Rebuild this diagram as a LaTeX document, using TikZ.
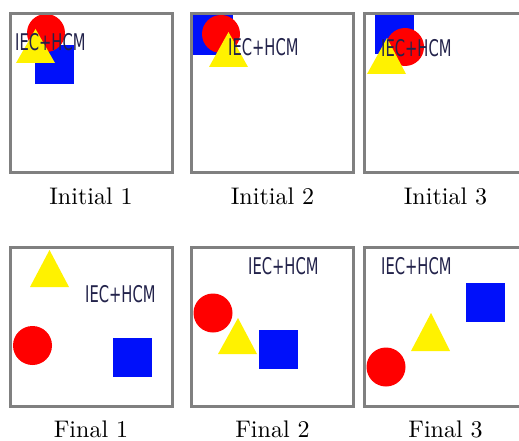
\documentclass[tikz,border=0pt]{standalone}
\usepackage{fontspec}
\usepackage{graphicx}
\newfontfamily\labelfont{DejaVu Sans}
\definecolor{framegray}{RGB}{128,128,128}
\definecolor{txtnavy}{RGB}{35,35,75}
\definecolor{sqblue}{RGB}{0,16,250}
\begin{document}
\begin{tikzpicture}[x=1pt,y=-1pt,
  framebox/.style={draw=framegray,line width=3pt},
  caption/.style={anchor=base,inner sep=0pt,font=\fontsize{10}{12}\selectfont},
  logotext/.style={anchor=base west,inner sep=0pt,text=txtnavy,font=\labelfont\fontsize{23}{26}\selectfont},
  redc/.style={fill=red},
  bluesq/.style={fill=sqblue},
  yellowtri/.style={fill=yellow}]
\useasboundingbox (0,0) rectangle (519,441);
\clip (0,0) rectangle (519,441);
\newcommand{\logo}{\scalebox{0.64}[1]{IEC+HCM}}
\newcommand{\panelcap}[1]{\scalebox{2.4}{#1}}
% ---------- Initial 1
\begin{scope}
\clip (12,15) rectangle (171,171);
\fill[bluesq] (35,45) rectangle (74,84);
\fill[redc] (46,33) circle[radius=19pt];
\fill[yellowtri] (16,63) -- (55,63) -- (35.5,29) -- cycle;
\node[logotext] (t1) at (15,51) {\logo};
\end{scope}
\draw[framebox] (10.5,13.5) rectangle (172.5,172.5);
\node[caption] (c1) at (91,204) {\panelcap{Initial 1}};
% ---------- Initial 2
\begin{scope}
\clip (193,15) rectangle (352,171);
\fill[bluesq] (193,15) rectangle (233,55);
\fill[redc] (221,34) circle[radius=19pt];
\fill[yellowtri] (209,67) -- (248,67) -- (228.5,32) -- cycle;
\node[logotext] (t2) at (228,56) {\logo};
\end{scope}
\draw[framebox] (191.5,13.5) rectangle (353.5,172.5);
\node[caption] (c2) at (272.5,204) {\panelcap{Initial 2}};
% ---------- Initial 3
\begin{scope}
\clip (366,15) rectangle (525,171);
\fill[bluesq] (375,15) rectangle (414,54);
\fill[redc] (405,47) circle[radius=19pt];
\fill[yellowtri] (367,74) -- (406,74) -- (387,38) -- cycle;
\node[logotext] (t3) at (381,57) {\logo};
\end{scope}
\draw[framebox] (364.5,13.5) rectangle (526.5,172.5);
\node[caption] (c3) at (445.5,204) {\panelcap{Initial 3}};
% ---------- Final 1
\begin{scope}
\clip (12,249) rectangle (171,405);
\fill[yellowtri] (30,287) -- (69,287) -- (49.5,250) -- cycle;
\fill[redc] (32.5,345.5) circle[radius=19.5pt];
\fill[bluesq] (112.5,337.5) rectangle (152,377);
\node[logotext] (t4) at (85,302) {\logo};
\end{scope}
\draw[framebox] (10.5,247.5) rectangle (172.5,406.5);
\node[caption] (c4) at (91,437.5) {\panelcap{Final 1}};
% ---------- Final 2
\begin{scope}
\clip (193,249) rectangle (352,405);
\fill[redc] (213,313) circle[radius=19.5pt];
\fill[yellowtri] (218,354) -- (257,354) -- (238,318) -- cycle;
\fill[bluesq] (258.5,329.5) rectangle (298,369);
\node[logotext] (t5) at (248,274) {\logo};
\end{scope}
\draw[framebox] (191.5,247.5) rectangle (353.5,406.5);
\node[caption] (c5) at (272.5,437.5) {\panelcap{Final 2}};
% ---------- Final 3
\begin{scope}
\clip (366,249) rectangle (525,405);
\fill[bluesq] (465.5,282.5) rectangle (505,322);
\fill[yellowtri] (411,351) -- (450,351) -- (431,313) -- cycle;
\fill[redc] (386,367) circle[radius=19.5pt];
\node[logotext] (t6) at (381,274) {\logo};
\end{scope}
\draw[framebox] (364.5,247.5) rectangle (526.5,406.5);
\node[caption] (c6) at (445.5,437.5) {\panelcap{Final 3}};
\end{tikzpicture}
\end{document}
